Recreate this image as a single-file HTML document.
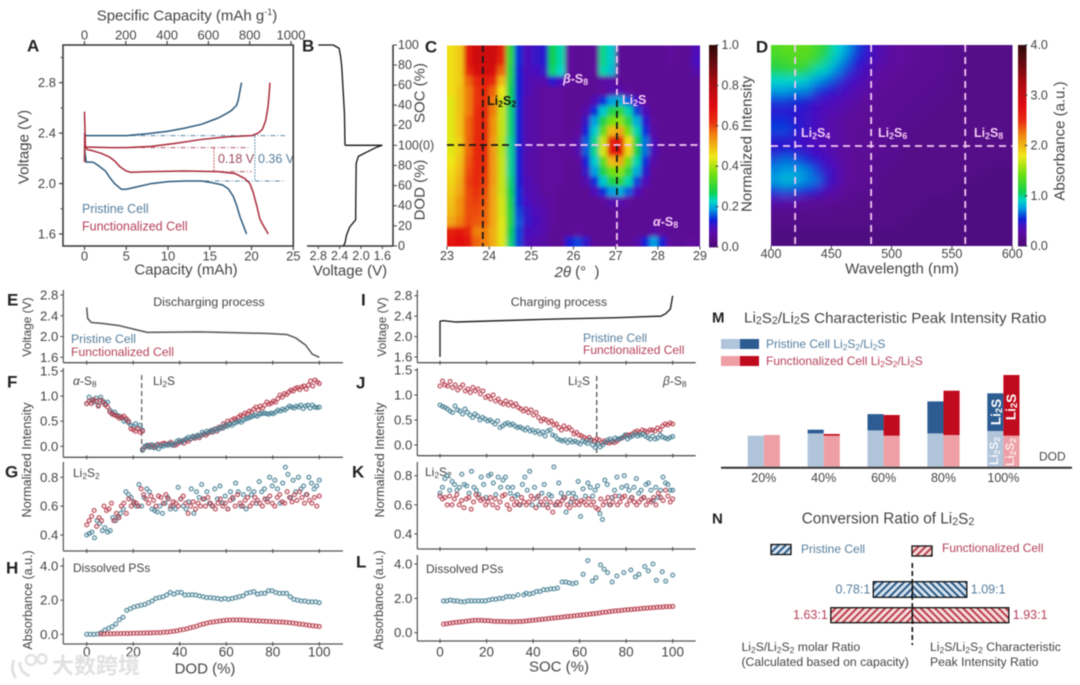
<!DOCTYPE html>
<html lang="en">
<head>
<meta charset="utf-8">
<title>Li-S operando characterization figure</title>
<style>
html,body{margin:0;padding:0;background:#fff;width:1080px;height:685px;overflow:hidden}
svg{display:block;filter:blur(0.4px)}
text{font-family:"Liberation Sans","Noto Sans CJK SC",sans-serif;fill:#444;dominant-baseline:central;font-size:13px}
.pl{font-weight:bold;font-size:17px;fill:#222}
.sub{font-size:70%;baseline-shift:-3px}
.after{baseline-shift:0}
.blue{fill:#567e9d}
.red{fill:#b5405a}
.title{font-size:15px}
.small{font-size:12px}
.pink{fill:#f3c9f3;font-weight:bold;font-size:12.5px}
.ital{font-style:italic}
</style>
</head>
<body>
<svg id="fig" xmlns="http://www.w3.org/2000/svg" width="1080" height="685" viewBox="0 0 1080 685">
<defs>
<clipPath id="clipC"><rect x="447" y="45.5" width="253" height="201"/></clipPath>
<clipPath id="clipD"><rect x="771" y="45" width="241.5" height="201"/></clipPath>
<filter id="soft" x="-10%" y="-10%" width="120%" height="120%"><feGaussianBlur stdDeviation="2"/></filter>
<filter id="softD" x="-10%" y="-10%" width="120%" height="120%"><feGaussianBlur stdDeviation="4.5"/></filter>
<pattern id="hatchBlueL" width="5" height="5" patternUnits="userSpaceOnUse" patternTransform="rotate(45)"><rect width="5" height="5" fill="#d7e4f0"/><rect width="2" height="5" fill="#2b5a85"/></pattern>
<pattern id="hatchBlueR" width="5" height="5" patternUnits="userSpaceOnUse" patternTransform="rotate(-45)"><rect width="5" height="5" fill="#d7e4f0"/><rect width="2" height="5" fill="#2b5a85"/></pattern>
<pattern id="hatchRedL" width="5" height="5" patternUnits="userSpaceOnUse" patternTransform="rotate(45)"><rect width="5" height="5" fill="#f8dcdc"/><rect width="2" height="5" fill="#b8404e"/></pattern>
<pattern id="hatchRedR" width="5" height="5" patternUnits="userSpaceOnUse" patternTransform="rotate(-45)"><rect width="5" height="5" fill="#f8dcdc"/><rect width="2" height="5" fill="#b8404e"/></pattern>
</defs>

<g id="gA">
<text class="pl" x="27" y="46">A</text>
<text class="title" x="187" y="16" text-anchor="middle">Specific Capacity (mAh g<tspan font-size="9" baseline-shift="4">-1</tspan>)</text>
<text class="title" x="186" y="270" text-anchor="middle">Capacity (mAh)</text>
<text class="title" transform="translate(24,147) rotate(-90)" text-anchor="middle">Voltage (V)</text>
<text class="blue" x="82" y="209" style="font-size:12.5px">Pristine Cell</text>
<text class="red" x="82" y="226.5" style="font-size:12.5px">Functionalized Cell</text>
<text x="218" y="159" style="font-size:12.5px;fill:#9c4a5c">0.18 V</text>
<text x="258" y="159" style="font-size:12.5px;fill:#567e9d">0.36 V</text>
</g>

<g id="gB">
<text class="pl" x="302" y="46">B</text>
<text class="title" x="350" y="271" text-anchor="middle">Voltage (V)</text>
<text class="title" transform="translate(420,93) rotate(-90)" text-anchor="middle">SOC (%)</text>
<text class="title" transform="translate(420,190) rotate(-90)" text-anchor="middle">DOD (%)</text>
</g>

<g id="gC">
<g clip-path="url(#clipC)"><g id="heatC" filter="url(#soft)"></g>
<g id="linesC"></g></g>
<g id="barC"></g>
<text class="pl" x="431" y="47" text-anchor="middle">C</text>
<text x="487" y="101" style="font-weight:bold;font-size:12.5px;fill:#1a1a10">Li<tspan class="sub">2</tspan><tspan class="after">S</tspan><tspan class="sub">2</tspan></text>
<text class="pink" x="622" y="100">Li<tspan class="sub">2</tspan><tspan class="after">S</tspan></text>
<text class="pink" x="563" y="79"><tspan class="ital">β</tspan>-S<tspan class="sub">8</tspan></text>
<text class="pink" x="653" y="222"><tspan class="ital">α</tspan>-S<tspan class="sub">8</tspan></text>
<text class="title" x="577" y="272" text-anchor="middle"><tspan class="ital">2θ</tspan> (°&#160;&#160;)</text>
<text class="title" transform="translate(747,144) rotate(-90)" text-anchor="middle">Normalized Intensity</text>
</g>

<g id="gD">
<g clip-path="url(#clipD)"><g id="heatD" filter="url(#softD)"></g>
<g id="linesD"></g></g>
<g id="barD"></g>
<text class="pl" x="762" y="47" text-anchor="middle">D</text>
<text class="pink" x="801" y="133">Li<tspan class="sub">2</tspan><tspan class="after">S</tspan><tspan class="sub">4</tspan></text>
<text class="pink" x="878" y="133">Li<tspan class="sub">2</tspan><tspan class="after">S</tspan><tspan class="sub">6</tspan></text>
<text class="pink" x="974" y="133">Li<tspan class="sub">2</tspan><tspan class="after">S</tspan><tspan class="sub">8</tspan></text>
<text class="title" x="902" y="269" text-anchor="middle">Wavelength (nm)</text>
<text class="title" transform="translate(1060,141) rotate(-90)" text-anchor="middle">Absorbance (a.u.)</text>
</g>

<g id="gLeft">
<text class="pl" x="7" y="300">E</text>
<text class="pl" x="7" y="382">F</text>
<text class="pl" x="5" y="472">G</text>
<text class="pl" x="6" y="568">H</text>
<text class="small" transform="translate(27,327) rotate(-90)" text-anchor="middle">Voltage (V)</text>
<text style="font-size:12.7px" transform="translate(27,460) rotate(-90)" text-anchor="middle">Normalized Intensity</text>
<text style="font-size:12.5px" transform="translate(28,600) rotate(-90)" text-anchor="middle">Absorbance (a.u.)</text>
<text x="209" y="302" text-anchor="middle" style="font-size:12.3px">Discharging process</text>
<text class="blue" x="71" y="339" style="font-size:12.2px">Pristine Cell</text>
<text class="red" x="71" y="352" style="font-size:12.2px">Functionalized Cell</text>
<text class="small" x="73" y="381"><tspan class="ital">α</tspan>-S<tspan class="sub">8</tspan></text>
<text class="small" x="153" y="381">Li<tspan class="sub">2</tspan><tspan class="after">S</tspan></text>
<text class="small" x="73" y="473">Li<tspan class="sub">2</tspan><tspan class="after">S</tspan><tspan class="sub">2</tspan></text>
<text class="small" x="73" y="568">Dissolved PSs</text>
<text class="title" x="205" y="669" text-anchor="middle">DOD (%)</text>
</g>

<g id="gRight">
<text class="pl" x="361" y="300">I</text>
<text class="pl" x="356" y="383">J</text>
<text class="pl" x="352" y="472">K</text>
<text class="pl" x="356" y="562">L</text>
<text class="small" transform="translate(382,327) rotate(-90)" text-anchor="middle">Voltage (V)</text>
<text style="font-size:12.7px" transform="translate(380,460) rotate(-90)" text-anchor="middle">Normalized Intensity</text>
<text style="font-size:12.5px" transform="translate(379,600) rotate(-90)" text-anchor="middle">Absorbance (a.u.)</text>
<text x="559" y="302" text-anchor="middle" style="font-size:12.3px">Charging process</text>
<text class="blue" x="583" y="338" style="font-size:12px">Pristine Cell</text>
<text class="red" x="583" y="350" style="font-size:12px">Functionalized Cell</text>
<text class="small" x="568" y="381">Li<tspan class="sub">2</tspan><tspan class="after">S</tspan></text>
<text class="small" x="663" y="381"><tspan class="ital">β</tspan>-S<tspan class="sub">8</tspan></text>
<text class="small" x="425" y="472">Li<tspan class="sub">2</tspan><tspan class="after">S</tspan><tspan class="sub">2</tspan></text>
<text class="small" x="426" y="569">Dissolved PSs</text>
<text class="title" x="559" y="667" text-anchor="middle">SOC (%)</text>
</g>

<g id="gM">
<text class="pl" x="712" y="318" style="font-size:15px">M</text>
<text x="744" y="318" style="font-size:15.2px">Li<tspan class="sub">2</tspan><tspan class="after">S</tspan><tspan class="sub">2</tspan><tspan class="after">/Li</tspan><tspan class="sub">2</tspan><tspan class="after">S Characteristic Peak Intensity Ratio</tspan></text>
<rect x="721" y="339" width="19" height="10" fill="#b0c4da"/>
<rect x="740" y="339" width="19" height="10" fill="#2c5c92"/>
<rect x="721" y="356" width="19" height="10" fill="#ee9fa6"/>
<rect x="740" y="356" width="19" height="10" fill="#c00b1e"/>
<text class="blue" x="766" y="344" style="font-size:12px">Pristine Cell Li<tspan class="sub">2</tspan><tspan class="after">S</tspan><tspan class="sub">2</tspan><tspan class="after">/Li</tspan><tspan class="sub">2</tspan><tspan class="after">S</tspan></text>
<text class="red" x="766" y="361" style="font-size:12px">Functionalized Cell Li<tspan class="sub">2</tspan><tspan class="after">S</tspan><tspan class="sub">2</tspan><tspan class="after">/Li</tspan><tspan class="sub">2</tspan><tspan class="after">S</tspan></text>
<g id="barsM"></g>
<line x1="721" y1="467.7" x2="1072" y2="467.7" stroke="#333" stroke-width="2"/>
<text x="1039" y="456.5" class="small">DOD</text>
<text transform="translate(996,412) rotate(-90)" text-anchor="middle" style="fill:#fff;font-weight:bold;font-size:13.5px">Li<tspan class="sub">2</tspan><tspan class="after">S</tspan></text>
<text transform="translate(1011,407) rotate(-90)" text-anchor="middle" style="fill:#fff;font-weight:bold;font-size:13.5px">Li<tspan class="sub">2</tspan><tspan class="after">S</tspan></text>
<text transform="translate(994,451) rotate(-90)" text-anchor="middle" style="fill:#f4f6fa;font-weight:bold;font-size:12px">Li<tspan class="sub">2</tspan><tspan class="after">S</tspan><tspan class="sub">2</tspan></text>
<text transform="translate(1010,452) rotate(-90)" text-anchor="middle" style="fill:#fbeaea;font-weight:bold;font-size:12px">Li<tspan class="sub">2</tspan><tspan class="after">S</tspan><tspan class="sub">2</tspan></text>
</g>

<g id="gN">
<text class="pl" x="712" y="519" style="font-size:15px">N</text>
<text x="888" y="519" text-anchor="middle" style="font-size:15.3px">Conversion Ratio of Li<tspan class="sub">2</tspan><tspan class="after">S</tspan><tspan class="sub">2</tspan></text>
<rect x="771" y="544.5" width="20" height="10" fill="url(#hatchBlueL)" stroke="#111" stroke-width="1.3"/>
<text class="blue" x="801" y="549" style="font-size:12px">Pristine Cell</text>
<rect x="912" y="546" width="20" height="10" fill="url(#hatchRedL)" stroke="#111" stroke-width="1.3"/>
<text class="red" x="942" y="548" style="font-size:12px">Functionalized Cell</text>
<g id="barsN"></g>
<line x1="912.3" y1="563" x2="912.3" y2="645" stroke="#111" stroke-width="1.6" stroke-dasharray="5 3"/>
<text x="741.5" y="647" style="font-size:12.2px">Li<tspan class="sub">2</tspan><tspan class="after">S/Li</tspan><tspan class="sub">2</tspan><tspan class="after">S</tspan><tspan class="sub">2</tspan><tspan class="after"> molar Ratio</tspan></text>
<text x="741.5" y="662" style="font-size:12.2px">(Calculated based on capacity)</text>
<text x="930" y="647" style="font-size:12.2px">Li<tspan class="sub">2</tspan><tspan class="after">S/Li</tspan><tspan class="sub">2</tspan><tspan class="after">S</tspan><tspan class="sub">2</tspan><tspan class="after"> Characteristic</tspan></text>
<text x="930" y="662" style="font-size:12.2px">Peak Intensity Ratio</text>
</g>

<g id="watermark" opacity="0.85">
<path d="M14 660 Q10 670 16 678 M20 662 Q19 672 30 676" fill="none" stroke="#ddd" stroke-width="3"/>
<circle cx="31" cy="660" r="5" fill="none" stroke="#ddd" stroke-width="2.5"/>
<circle cx="42" cy="659" r="4.5" fill="none" stroke="#ddd" stroke-width="2.5"/>
<text x="52" y="666" style="font-size:22px;fill:#dcdcdc;font-family:'Liberation Sans','WenQuanYi Zen Hei','Noto Sans CJK SC',sans-serif;font-weight:bold">大数跨境</text>
</g>
</svg>

<script>
/* ---------- data: panel A (capacity mAh, voltage V) ---------- */
const aPristineChargeCap = [0.1,2,5,7.5,10,12,14,16,17,17.6,18.2,18.4,18.6,18.8];
const aPristineChargeV = [2.38,2.38,2.38,2.395,2.415,2.44,2.47,2.52,2.555,2.58,2.62,2.66,2.73,2.8];
const aPristineDischargeCap = [0.02,0.05,0.2,1,1.5,2.5,3,3.6,4.4,5,6,8,10,12,14,15,16.5,17.2,17.8,18.2,18.6,19,19.4];
const aPristineDischargeV = [2.3,2.25,2.17,2.17,2.15,2.1,2.05,2,1.955,1.955,1.97,2,2.015,2.02,2.02,2.01,1.99,1.96,1.9,1.83,1.74,1.67,1.6];
const aFuncChargeCap = [0,0.02,0.1,3,5,8,11,14,17,20,20.8,21.3,21.7,21.95,22.1,22.2];
const aFuncChargeV = [2.17,2.4,2.29,2.285,2.285,2.295,2.32,2.35,2.37,2.38,2.4,2.43,2.5,2.6,2.7,2.8];
const aFuncDischargeCap = [0,0.1,0.3,1,2,3,3.6,4.3,5,5.5,8,12,16,18,19.2,19.8,20.2,20.6,21,21.3,22];
const aFuncDischargeV = [2.57,2.3,2.27,2.26,2.24,2.21,2.18,2.13,2.1,2.09,2.095,2.1,2.095,2.08,2.04,2,1.93,1.83,1.72,1.68,1.6];
const aCapTicks = [0,5,10,15,20,25];
const aSpecTicks = [0,200,400,600,800,1000];
const aVoltTicks = [1.6,2.0,2.4,2.8];
const aVoltMinor = [1.8,2.2,2.6,3.0];
/* ---------- panel B ---------- */
const bSocPct = [100,100,96.7,88,78,32,2,0];
const bSocV = [2.8,2.52,2.41,2.38,2.36,2.31,2.3,2.3];
const bDodPct = [100,98,93,89,82,26,19,11,3,0];
const bDodV = [1.6,1.71,1.9,2.05,2.09,2.1,2.21,2.27,2.3,2.33];
const bVoltTicks = [2.8,2.4,2.0,1.6];
const bSocTicks = [100,80,60,40,20];
const bDodTicks = [80,60,40,20,0];
/* ---------- panel C heatmap: rows top to bottom, normalized intensity x100, 0.2 deg columns from 23 to 29 ---------- */
const cHeat = [
[46,48,68,74,74,74,66,30,14,9,11,12,27,24,6,5,5,6,25,22,5,5,5,5,5,5,6,5,5,9],
[46,48,68,74,74,74,64,30,14,9,11,12,27,24,6,5,5,6,25,22,5,5,5,5,5,5,6,5,5,10],
[46,48,64,72,74,72,58,29,13,9,10,11,26,23,6,5,5,6,24,21,5,5,5,5,5,5,5,5,5,8],
[46,48,58,64,66,64,50,28,13,9,8,8,12,10,6,5,5,5,7,7,5,5,5,5,5,5,5,5,5,5],
[46,49,56,62,64,58,45,27,13,9,7,6,6,6,5,5,5,5,6,8,8,6,5,5,5,5,5,5,5,5],
[44,49,56,62,63,56,43,27,13,8,7,6,6,6,5,5,5,9,14,19,20,16,10,6,5,5,5,5,5,5],
[44,49,56,63,64,56,42,26,13,8,7,6,6,6,5,5,8,14,22,28,30,24,15,9,5,5,5,5,5,5],
[44,49,58,63,64,54,42,26,13,8,7,6,6,6,5,5,11,19,28,36,38,29,20,12,6,5,5,5,5,5],
[44,49,58,63,64,54,42,26,13,8,7,6,6,6,5,6,13,22,34,50,52,36,24,14,7,5,5,5,5,5],
[44,48,58,64,64,53,41,25,13,8,7,6,6,6,6,8,16,25,42,66,68,46,27,17,9,5,5,5,5,5],
[44,48,58,64,64,53,41,25,13,8,7,6,6,6,6,8,16,25,43,67,69,47,27,17,9,5,5,5,5,5],
[45,49,59,64,63,53,42,25,13,8,7,6,6,6,5,6,13,22,34,50,52,36,24,14,7,5,5,5,5,5],
[46,50,60,64,62,53,42,25,13,8,7,6,6,6,5,5,11,19,28,36,38,29,20,12,6,5,5,5,5,5],
[47,51,61,64,61,53,42,26,13,9,7,6,6,6,5,5,8,14,22,28,30,24,15,9,5,5,5,5,5,5],
[48,52,60,62,60,52,42,27,14,9,8,6,6,5,5,5,5,9,14,19,20,16,10,6,5,5,5,5,5,5],
[49,54,60,61,59,52,43,28,14,10,8,7,6,5,5,5,5,5,6,8,8,6,5,5,5,5,5,5,5,5],
[50,54,60,60,58,52,43,29,15,11,9,8,6,5,5,5,5,5,5,5,5,5,5,5,5,5,5,5,5,5],
[52,56,60,59,58,52,44,29,16,11,10,8,6,5,5,5,5,5,5,5,5,5,5,5,5,5,5,5,5,5],
[66,68,64,56,56,51,44,27,15,10,9,8,5,5,5,6,5,5,5,5,5,5,5,5,7,6,5,5,5,5],
[68,70,68,58,56,51,44,26,15,9,8,7,5,5,13,15,11,5,5,5,5,5,7,13,19,13,6,5,6,6]
];
const cXTicks = [23,24,25,26,27,28,29];
const cBarTicks = ["0.0","0.2","0.4","0.6","0.8","1.0"];
/* ---------- panel D heatmap: rows top to bottom, fraction of colour range x100 ---------- */
const dHeat = [
[33,34,34,34,32,28,23,19,15,12,9,7,6,6,5,5,5,4,4,3,3,3,3,3],
[31,32,33,33,30,25,21,17,13,11,8,7,6,6,5,5,5,4,4,3,3,3,3,3],
[28,29,30,28,24,22,18,15,11,9,7,6,6,5,5,5,5,4,4,3,3,3,3,3],
[23,23,23,22,19,17,15,11,10,8,6,6,5,5,5,5,4,4,3,3,3,3,3,3],
[19,19,18,18,15,13,11,10,8,7,6,5,5,5,5,4,4,4,3,3,3,3,3,3],
[15,15,14,13,11,10,9,8,7,6,5,5,5,5,4,4,4,3,3,3,3,3,3,3],
[12,12,12,11,10,9,8,7,6,5,5,5,5,4,4,4,3,3,3,3,3,3,3,3],
[14,14,12,11,10,8,7,6,6,5,5,5,4,4,4,3,3,3,3,3,3,3,3,3],
[15,15,13,11,10,8,7,6,5,5,5,5,4,4,3,3,3,3,3,3,3,3,3,3],
[12,12,11,10,9,8,7,6,5,5,5,4,4,4,3,3,3,3,3,3,3,3,3,3],
[12,13,12,11,10,9,7,6,5,5,5,4,4,3,3,3,3,3,3,3,3,3,3,3],
[16,17,16,14,12,10,8,6,5,5,4,4,4,3,3,3,3,3,3,3,3,3,3,3],
[18,19,19,18,15,11,9,6,5,5,4,4,3,3,3,3,3,3,3,3,3,2,2,2],
[19,21,20,18,17,12,9,6,5,5,4,3,3,3,3,3,3,3,3,2,2,2,2,2],
[15,16,15,14,12,9,7,5,5,4,4,3,3,3,3,3,3,3,2,2,2,2,2,2],
[8,8,7,6,5,5,5,4,4,3,3,3,3,3,3,2,2,2,2,2,2,2,2,2],
[4,4,4,4,4,4,3,3,3,3,3,3,3,3,2,2,2,2,2,2,2,2,2,2],
[3,3,3,3,3,3,3,3,3,3,3,3,3,2,2,2,2,2,2,2,2,2,2,2],
[2,2,2,2,2,2,2,2,2,2,2,2,2,2,2,2,2,2,2,2,2,2,2,2],
[2,2,2,2,2,2,2,2,2,2,2,2,2,2,2,2,2,2,2,2,2,2,2,2]
];
const dXTicks = [400,450,500,550,600];
const dBarTicks = ["0.0","1.0","2.0","3.0","4.0"];
/* ---------- rainbow colour scale ---------- */
const cmapAt = [0,0.03,0.06,0.1,0.135,0.19,0.23,0.27,0.36,0.45,0.56,0.62,0.7,0.82,0.92,1];
const cmapColor = ["#480876","#540a88","#5e0a9c","#4a10c0","#1020d8","#00a0e0","#00d8c8","#10d050","#70e010","#f0e818","#f08010","#e83010","#e00a10","#a80a10","#600a10","#300808"];
/* ---------- panel E / I voltage curves ---------- */
const eDod = [0,0.4,2,7,14,20,26,49,77,86,90,94,97,100];
const eVolt = [2.56,2.35,2.27,2.25,2.21,2.145,2.08,2.09,2.06,2.04,1.97,1.84,1.66,1.6];
const iSoc = [0,0,1.4,7,47,76,95,97,99,100];
const iVolt = [1.6,2.3,2.31,2.285,2.34,2.37,2.4,2.45,2.54,2.8];
const voltTicks = [1.6,2.0,2.4,2.8];
const pctTicks = [0,20,40,60,80,100];
/* ---------- panel F: DOD 0-24 and 24-100 ---------- */
const fPristineAlpha = [.85,.98,.92,.88,.96,.82,.98,.9,.85,.88,.72,.66,.68,.62,.6,.56,.5,.52,.47,.42,.4,.45,.36,.42,.32];
const fFuncAlpha = [.85,.9,.85,.93,.9,.8,.92,.87,.82,.78,.68,.64,.62,.6,.56,.58,.6,.55,.5,.35,.33,.3,.35,.28,.3];
const fPristineLi2S = [-.08,0,.02,-.02,.03,-.03,.02,-.05,.01,0,.03,.02,.05,.02,.05,.1,.12,.08,.12,.15,.18,.15,.2,.18,.22,.2,.28,.25,.3,.28,.32,.3,.35,.33,.38,.36,.42,.4,.44,.42,.46,.48,.5,.48,.52,.55,.56,.58,.6,.62,.6,.64,.65,.66,.65,.64,.66,.65,.68,.72,.7,.74,.72,.76,.8,.78,.76,.8,.78,.82,.75,.8,.82,.76,.82,.78,.77,.78];
const fFuncLi2S = [-.06,-.02,0,.02,-.01,.01,-.02,.04,.02,.05,.06,.04,.05,.08,.03,.02,.05,.08,.1,.06,.12,.1,.14,.18,.16,.2,.17,.22,.24,.22,.26,.3,.28,.34,.3,.38,.36,.45,.4,.5,.46,.52,.55,.53,.58,.62,.6,.66,.64,.7,.68,.74,.78,.72,.8,.76,.82,.88,.84,.86,.9,.88,.95,1.02,.98,1.05,1.03,1.08,1.12,1.1,1.15,1.17,1.13,1.18,1.2,1.14,1.22,1.3,1.2,1.32,1.28,1.25];
const fTicks = [0,0.5,1,1.5];
const fTickLabels = ["0.0","0.5","1.0","1.5"];
/* ---------- panel G ---------- */
const gPristine = [.40,.41,.42,.38,.5,.48,.43,.45,.42,.43,.52,.5,.53,.55,.58,.7,.68,.66,.62,.6,.75,.6,.66,.72,.7,.58,.57,.56,.6,.55,.62,.66,.58,.6,.58,.73,.65,.6,.58,.63,.72,.55,.7,.66,.75,.65,.7,.62,.6,.72,.65,.74,.62,.67,.58,.7,.65,.76,.7,.6,.68,.58,.72,.68,.7,.62,.77,.7,.72,.65,.8,.74,.78,.72,.62,.76,.87,.82,.66,.78,.7,.8,.72,.74,.68,.8,.76,.72,.74,.78];
const gFunc = [.47,.5,.53,.57,.46,.52,.5,.6,.57,.58,.62,.5,.55,.52,.6,.62,.55,.65,.6,.63,.62,.6,.72,.68,.65,.62,.67,.64,.6,.67,.66,.62,.68,.65,.6,.63,.62,.6,.65,.67,.62,.55,.6,.63,.58,.62,.6,.65,.6,.66,.62,.6,.58,.62,.65,.6,.62,.58,.64,.66,.6,.68,.62,.6,.64,.66,.6,.62,.66,.64,.62,.6,.65,.63,.67,.62,.6,.66,.68,.63,.62,.7,.66,.63,.68,.64,.7,.66,.62,.68,.64,.62,.66,.6,.67];
const intTicks = [0.4,0.6,0.8];
/* ---------- panel H ---------- */
const hPristine = [0,0,0,.02,.1,.25,.35,.45,.6,.85,1,1.4,1.5,1.6,1.65,1.7,1.75,1.85,1.95,2.1,2.15,2.2,2.3,2.45,2.35,2.45,2.45,2.3,2.3,2.32,2.3,2.25,2.2,2.15,2.15,2.12,2.1,2.05,2.1,2.05,2.1,2.15,2.2,2.25,2.4,2.45,2.5,2.35,2.4,2.4,2.55,2.55,2.45,2.4,2.4,2.4,2.2,2.05,2,1.95,1.95,1.9,1.9,1.9,1.85];
const hFunc = [.02,.02,.03,.03,.03,.04,.04,.05,.05,.05,.06,.06,.07,.07,.08,.08,.09,.1,.1,.12,.13,.15,.18,.2,.25,.28,.32,.38,.42,.48,.55,.6,.65,.7,.72,.75,.78,.8,.82,.83,.84,.84,.84,.83,.82,.81,.8,.79,.78,.77,.76,.75,.74,.73,.72,.71,.7,.68,.66,.63,.6,.58,.55,.52,.5,.48,.46];
const absTicks = [0,2,4];
const absTickLabels = ["0.0","2.0","4.0"];
/* ---------- panel J ---------- */
const jPristine = [.8,.77,.75,.72,.68,.65,.78,.7,.68,.62,.72,.65,.6,.55,.62,.58,.5,.55,.52,.48,.5,.46,.42,.48,.35,.38,.42,.44,.4,.42,.38,.35,.36,.33,.3,.34,.28,.3,.25,.28,.22,.26,.18,.28,.3,.2,.18,.12,.1,.08,.1,.05,.1,.06,.08,.05,.02,.08,.06,.03,.1,0,-.05,.02,-.04,0,.05,.1,.12,.08,.14,.12,.13,.15,.2,.12,.16,.18,.22,.18,.2,.22,.18,.15,.12,.18,.12,.14,.2,.16,.14,.12,.15,.17];
const jFunc = [1.18,1.28,1.2,1.18,1.27,1.15,1.2,1.1,1.15,1.2,1.08,1.12,1.05,1.15,1.08,1.12,1.02,1.08,.95,.98,.92,1.0,.88,.92,.85,.82,.88,.8,.85,.78,.82,.75,.72,.68,.72,.65,.7,.6,.65,.55,.48,.52,.5,.45,.48,.4,.42,.35,.3,.38,.32,.35,.3,.22,.25,.2,.18,.15,.12,.15,.1,.08,.12,.1,.05,.08,.05,.04,.06,.05,.08,.12,.14,.17,.2,.2,.22,.26,.28,.25,.3,.28,.26,.3,.3,.28,.34,.3,.38,.42,.4,.44,.42];
/* ---------- panel K ---------- */
const kPristine = [.68,.72,.78,.8,.7,.76,.74,.7,.72,.81,.74,.73,.68,.83,.72,.7,.67,.79,.74,.65,.8,.81,.75,.67,.79,.72,.77,.79,.72,.68,.72,.66,.67,.6,.74,.79,.7,.83,.6,.72,.65,.6,.68,.74,.6,.67,.66,.86,.6,.75,.68,.65,.55,.68,.62,.68,.65,.76,.52,.71,.66,.75,.72,.66,.7,.73,.54,.5,.77,.74,.6,.65,.7,.79,.66,.72,.8,.73,.7,.65,.72,.78,.68,.7,.65,.74,.75,.7,.63,.72,.65,.7,.79,.75,.74,.7,.7];
const kFunc = [.66,.64,.65,.6,.66,.6,.64,.67,.6,.63,.58,.64,.65,.57,.62,.67,.65,.63,.64,.6,.62,.65,.6,.64,.58,.62,.66,.67,.6,.57,.64,.6,.62,.6,.65,.62,.6,.62,.66,.64,.58,.66,.62,.6,.64,.58,.62,.55,.6,.62,.6,.63,.65,.6,.58,.64,.6,.62,.6,.63,.62,.6,.64,.6,.62,.58,.57,.64,.6,.62,.65,.6,.62,.66,.6,.62,.65,.66,.6,.63,.65,.62,.6,.62,.64,.65,.6,.63,.62,.65,.6,.68,.65,.63,.7,.66,.62,.64];
/* ---------- panel L ---------- */
const lPristineSoc = [1.5,3,4.5,6,7.5,9,10.5,12,13.5,15,16.5,18,19.5,21,22.5,24,25.5,27,28.5,30,31.5,33.5,36,37,38.5,40,41.5,43,44.5,46,47.5,49,50.5,52.5,54,55.5,57,58.5,61.5,63.5,65.5,67,69,70.5,72,74,76,79,82,84,85.5,88,89.5,91.5,93,95.5,97,100];
const lPristine = [1.85,1.85,1.9,1.85,1.85,1.8,1.8,1.85,1.85,1.85,1.85,1.85,1.85,1.9,1.95,1.95,2,2,2.1,2.1,2.1,2.2,2.2,2.3,2.25,2.3,2.4,2.4,2.5,2.5,2.55,2.55,2.6,2.95,2.95,2.9,2.85,2.9,3.4,4.2,3,3.2,3.95,3.7,3.5,2.95,3.3,3.5,3.65,3.25,3.4,3.85,3.6,4,3.05,3.55,3,3.35];
const lFunc = [.5,.52,.55,.58,.6,.62,.64,.66,.68,.7,.72,.72,.72,.7,.7,.68,.66,.66,.65,.65,.64,.64,.64,.65,.65,.66,.68,.7,.72,.74,.76,.78,.8,.82,.84,.86,.88,.9,.92,.94,.96,.98,1,1.02,1.04,1.06,1.08,1.1,1.12,1.15,1.18,1.2,1.22,1.25,1.27,1.28,1.3,1.32,1.34,1.35,1.37,1.38,1.4,1.42,1.43,1.45,1.46,1.48,1.49,1.5,1.52,1.52,1.53];
/* ---------- panel M ---------- */
const mCategories = ["20%","40%","60%","80%","100%"];
const mPristineLi2S2 = [.31,.333,.363,.333,.357];
const mPristineLi2S = [0,.037,.163,.32,.377];
const mFuncLi2S2 = [.317,.31,.31,.317,.31];
const mFuncLi2S = [0,.017,.207,.443,.607];
/* ---------- panel N ---------- */
const nCells = ["pristine","functionalized"];
const nMolarRatio = [0.78,1.63];
const nPeakRatio = [1.09,1.93];

const NS = "http://www.w3.org/2000/svg";
function add(parent, tag, attrs, name) {
  const el = document.createElementNS(NS, tag);
  for (const k in attrs) el.setAttribute(k, attrs[k]);
  
  
  parent.appendChild(el);
  return el;
}
function linear(d0, d1, r0, r1) { return v => r0 + (v - d0) * (r1 - r0) / (d1 - d0); }
function label(parent, x, y, str, anchor, size, name) {
  const t = add(parent, 'text', {x: x, y: y, 'text-anchor': anchor, style: 'font-size:' + size + 'px'}, name);
  t.textContent = str;
  return t;
}
function path(parent, xs, ys, sx, sy, stroke, width, name, dash) {
  const d = xs.map((x, i) => (i ? 'L' : 'M') + sx(x).toFixed(2) + ' ' + sy(ys[i]).toFixed(2)).join('');
  const a = {d: d, fill: 'none', stroke: stroke, 'stroke-width': width, 'stroke-linejoin': 'round'};
  if (dash) a['stroke-dasharray'] = dash;
  return add(parent, 'path', a, name);
}
function hTicks(parent, vals, s, y, len, name, w) {
  vals.forEach(v => add(parent, 'line', {x1: s(v), x2: s(v), y1: y, y2: y + len, stroke: '#444', 'stroke-width': w || 1}, name));
}
function vTicks(parent, vals, s, x, len, name, w) {
  vals.forEach(v => add(parent, 'line', {y1: s(v), y2: s(v), x1: x, x2: x + len, stroke: '#444', 'stroke-width': w || 1}, name));
}
function scatter(parent, x0, x1, ys, sx, sy, color, name, xs) {
  ys.forEach((v, i) => {
    const xv = xs ? xs[i] : x0 + i * (x1 - x0) / (ys.length - 1);
    add(parent, 'circle', {cx: sx(xv).toFixed(2), cy: sy(v).toFixed(2), r: 2, fill: color + '26', stroke: color, 'stroke-width': 1}, name);
  });
}
function hexRgb(h) { return [1, 3, 5].map(i => parseInt(h.substr(i, 2), 16)); }
function cmap(v) {
  v = Math.max(0, Math.min(1, v));
  let i = 0;
  while (i < cmapAt.length - 2 && v > cmapAt[i + 1]) i++;
  const t = (v - cmapAt[i]) / (cmapAt[i + 1] - cmapAt[i]);
  const a = hexRgb(cmapColor[i]), b = hexRgb(cmapColor[i + 1]);
  return 'rgb(' + a.map((c, k) => Math.round(c + (b[k] - c) * t)).join(',') + ')';
}
function heat(parent, grid, x0, y0, cw, ch, name) {
  const R = grid.length, C = grid[0].length;
  grid.forEach((row, r) => row.forEach((v, c) => {
    /* edge cells bleed past the clip so the blur does not fade at the frame */
    const ex = c === 0 ? 14 : 0, ey = r === 0 ? 14 : 0;
    const ew = c === C - 1 ? 14 : 0, eh = r === R - 1 ? 14 : 0;
    add(parent, 'rect', {x: x0 + c * cw - ex, y: y0 + r * ch - ey, width: cw + ex + ew + 0.4, height: ch + ey + eh + 0.4, fill: cmap(v / 100)}, name);
  }));
}
function colorbar(parent, x, y0, y1, w, ticks, name) {
  const n = 100;
  const h = (y1 - y0) / n;
  for (let i = 0; i < n; i++) add(parent, 'rect', {x: x, y: y1 - (i + 1) * h, width: w, height: h + 0.4, fill: cmap((i + 0.5) / n)}, name + '-segment');
  ticks.forEach((lab, i) => {
    const yy = y1 - i * (y1 - y0) / (ticks.length - 1);
    add(parent, 'line', {x1: x + w - 2, x2: x + w + 1, y1: yy, y2: yy, stroke: '#444', 'stroke-width': 1}, name + '-tick');
    label(parent, x + w + 4, yy, lab, 'start', 12.5, name + '-tick-label');
  });
}

/* ---------- panel A ---------- */
(function () {
  const g = document.getElementById('gA');
  const sx = linear(0, 25, 84.5, 293.3), sy = linear(1.6, 2.8, 234, 82.7), st = linear(0, 1000, 84.5, 291);
  add(g, 'rect', {x: 63, y: 45, width: 230.3, height: 201, fill: 'none', stroke: '#333', 'stroke-width': 1.5}, 'panel-a-frame');
  hTicks(g, aCapTicks, sx, 246, 4, 'capacity-tick', 1.2);
  hTicks(g, aSpecTicks, st, 45, -4, 'specific-capacity-tick', 1.2);
  vTicks(g, aVoltTicks, sy, 63, -4, 'voltage-major-tick', 1.2);
  vTicks(g, aVoltMinor, sy, 63, -2.5, 'voltage-minor-tick', 1);
  aCapTicks.forEach(v => label(g, sx(v), 256, String(v), 'middle', 13, 'capacity-tick-label'));
  aSpecTicks.forEach(v => label(g, st(v), 35, String(v), 'middle', 13, 'specific-capacity-tick-label'));
  aVoltTicks.forEach(v => label(g, 56, sy(v), v.toFixed(1), 'end', 13, 'voltage-tick-label'));
  const B = '#2c5a7c', R = '#a82a3a';
  path(g, [5.5, 24], [2.38, 2.38], sx, sy, '#5a89a8', 1, 'guide-pristine-charge', '5 2 1 2');
  path(g, [12, 24], [2.02, 2.02], sx, sy, '#5a89a8', 1, 'guide-pristine-discharge', '5 2 1 2');
  path(g, [5.5, 19.6], [2.285, 2.285], sx, sy, '#b35a68', 1, 'guide-functionalized-charge', '5 2 1 2');
  path(g, [15, 20], [2.095, 2.095], sx, sy, '#b35a68', 1, 'guide-functionalized-discharge', '5 2 1 2');
  path(g, [15.5, 15.5], [2.28, 2.1], sx, sy, '#b8303f', 1, 'arrow-0-18-v', '1.5 1.5');
  path(g, [20.4, 20.4], [2.375, 2.025], sx, sy, '#3d7396', 1, 'arrow-0-36-v', '1.5 1.5');
  path(g, aPristineChargeCap, aPristineChargeV, sx, sy, B, 1.5, 'pristine-charge-curve');
  path(g, aPristineDischargeCap, aPristineDischargeV, sx, sy, B, 1.5, 'pristine-discharge-curve');
  path(g, aFuncChargeCap, aFuncChargeV, sx, sy, R, 1.5, 'functionalized-charge-curve');
  path(g, aFuncDischargeCap, aFuncDischargeV, sx, sy, R, 1.5, 'functionalized-discharge-curve');
})();

/* ---------- panel B ---------- */
(function () {
  const g = document.getElementById('gB');
  const sx = linear(2.8, 1.6, 318.3, 382.3), sSoc = linear(0, 100, 145.3, 45), sDod = linear(0, 100, 246, 145.3);
  add(g, 'line', {x1: 307, x2: 393, y1: 246, y2: 246, stroke: '#333', 'stroke-width': 1.5}, 'panel-b-x-axis');
  add(g, 'line', {x1: 393, x2: 393, y1: 45, y2: 246, stroke: '#333', 'stroke-width': 1.5}, 'panel-b-y-axis');
  hTicks(g, bVoltTicks, sx, 246, 3, 'panel-b-voltage-tick');
  bVoltTicks.forEach(v => label(g, sx(v), 256, v.toFixed(1), 'middle', 12.5, 'panel-b-voltage-tick-label'));
  vTicks(g, bSocTicks, sSoc, 393, 4, 'soc-tick');
  vTicks(g, bDodTicks, sDod, 393, 4, 'dod-tick');
  vTicks(g, [100], sDod, 393, 4, 'soc-dod-junction-tick');
  bSocTicks.forEach(v => label(g, 398, sSoc(v), String(v), 'start', 12.5, 'soc-tick-label'));
  bDodTicks.forEach(v => label(g, 398, sDod(v), String(v), 'start', 12.5, 'dod-tick-label'));
  label(g, 398, 145.3, '100(0)', 'start', 12.5, 'soc-dod-junction-label');
  path(g, bSocV, bSocPct, sx, sSoc, '#111', 1.3, 'soc-voltage-curve');
  path(g, [2.3, 1.6], [100, 100], sx, sDod, '#111', 1.3, 'soc-dod-transition-line');
  path(g, bDodV, bDodPct, sx, sDod, '#111', 1.3, 'dod-voltage-curve');
})();

/* ---------- panel C ---------- */
(function () {
  const g = document.getElementById('gC');
  const sx = linear(23, 29, 447, 700);
  heat(document.getElementById('heatC'), cHeat, 447, 45.7, 253 / 30, 10.05, 'xrd-heatmap-cell');
  const L = document.getElementById('linesC');
  const dash = '7 4';
  path(L, [23.85, 23.85], [45, 247], sx, v => v, '#1a1a1a', 1.8, 'li2s2-guide-line', dash);
  path(L, [27.03, 27.03], [45, 95], sx, v => v, '#f3c9f3', 1.8, 'li2s-guide-upper', dash);
  path(L, [27.03, 27.03], [100, 196], sx, v => v, '#10201a', 1.8, 'li2s-guide-middle', dash);
  path(L, [27.03, 27.03], [200, 247], sx, v => v, '#f3c9f3', 1.8, 'li2s-guide-lower', dash);
  path(L, [23, 24.5], [145, 145], sx, v => v, '#1a1a1a', 1.8, 'horizontal-guide-dark', dash);
  path(L, [24.6, 29], [145, 145], sx, v => v, '#f3c9f3', 1.8, 'horizontal-guide-light', dash);
  cXTicks.forEach(v => label(g, sx(v), 256, String(v), 'middle', 12.5, 'two-theta-tick-label'));
  hTicks(g, cXTicks, sx, 246.5, 3, 'two-theta-tick');
  colorbar(document.getElementById('barC'), 709, 45, 247, 8.5, cBarTicks, 'panel-c-colorbar');
})();

/* ---------- panel D ---------- */
(function () {
  const g = document.getElementById('gD');
  const sx = linear(400, 600, 771, 1012.3);
  heat(document.getElementById('heatD'), dHeat, 771, 45, 241.5 / 24, 10.05, 'uv-vis-heatmap-cell');
  const L = document.getElementById('linesD');
  const c = '#f3c9f3';
  [420, 483, 561].forEach(v => path(L, [v, v], [45, 246], sx, y => y, c, 1.8, 'species-guide-line', '7 5'));
  path(L, [400, 600], [146, 146], sx, y => y, c, 1.8, 'horizontal-guide-line', '7 5');
  dXTicks.forEach(v => label(g, sx(v), 254, String(v), 'middle', 12.5, 'wavelength-tick-label'));
  hTicks(g, dXTicks, sx, 246, 3, 'wavelength-tick');
  colorbar(document.getElementById('barD'), 1018, 45, 246, 8.5, dBarTicks, 'panel-d-colorbar');
})();

/* ---------- stacked line panels E-L ---------- */
function frame(g, xl, xr, top, bottom, sx, name, ticksX) {
  add(g, 'line', {x1: xl, x2: xl, y1: top, y2: bottom, stroke: '#444', 'stroke-width': 1.1}, name + '-y-axis');
  add(g, 'line', {x1: xl, x2: xr, y1: bottom, y2: bottom, stroke: '#555', 'stroke-width': 1.3}, name + '-x-axis');
  hTicks(g, ticksX, sx, bottom - 2, 4, name + '-x-tick');
}
function yAxis(g, vals, labs, sy, xl, name) {
  vTicks(g, vals, sy, xl, -3, name + '-y-tick');
  vals.forEach((v, i) => label(g, xl - 5, sy(v), labs[i], 'end', 13.2, name + '-y-tick-label'));
}
const BLUE = '#4a8296', RED = '#b8404f';
(function () {
  const g = document.getElementById('gLeft');
  const sx = linear(0, 100, 86.7, 319.3);
  const xl = 63.3, xr = 343;
  const sE = linear(1.6, 2.8, 357.3, 295);
  frame(g, xl, xr, 290, 362.7, sx, 'panel-e', pctTicks);
  yAxis(g, voltTicks, voltTicks.map(v => v.toFixed(1)), sE, xl, 'panel-e');
  path(g, eDod, eVolt, sx, sE, '#555', 1.5, 'discharge-voltage-curve');
  const sF = linear(0, 1.5, 446.3, 371);
  frame(g, xl, xr, 368, 457.3, sx, 'panel-f', pctTicks);
  yAxis(g, fTicks, fTickLabels, sF, xl, 'panel-f');
  add(g, 'line', {x1: 141.7, x2: 141.7, y1: 375, y2: 453, stroke: '#555', 'stroke-width': 1.2, 'stroke-dasharray': '5 3'}, 'panel-f-divider');
  scatter(g, 0, 24, fPristineAlpha, sx, sF, BLUE, 'panel-f-pristine-alpha-point');
  scatter(g, 0, 24, fFuncAlpha, sx, sF, RED, 'panel-f-functionalized-alpha-point');
  scatter(g, 24, 100, fFuncLi2S, sx, sF, RED, 'panel-f-functionalized-li2s-point');
  scatter(g, 24, 100, fPristineLi2S, sx, sF, BLUE, 'panel-f-pristine-li2s-point');
  const sG = linear(0.4, 0.8, 535, 477.3);
  frame(g, xl, xr, 462, 551, sx, 'panel-g', pctTicks);
  yAxis(g, intTicks, intTicks.map(v => v.toFixed(1)), sG, xl, 'panel-g');
  scatter(g, 0, 100, gPristine, sx, sG, BLUE, 'panel-g-pristine-point');
  scatter(g, 0, 100, gFunc, sx, sG, RED, 'panel-g-functionalized-point');
  const sH = linear(0, 4, 634.3, 566);
  frame(g, xl, xr, 557.7, 644, sx, 'panel-h', pctTicks);
  yAxis(g, absTicks, absTickLabels, sH, xl, 'panel-h');
  scatter(g, 0, 100, hPristine, sx, sH, BLUE, 'panel-h-pristine-point');
  scatter(g, 6, 100, hFunc, sx, sH, RED, 'panel-h-functionalized-point');
  pctTicks.forEach(v => label(g, sx(v), 652, String(v), 'middle', 13.5, 'dod-tick-label'));
})();
(function () {
  const g = document.getElementById('gRight');
  const sx = linear(0, 100, 440, 672.7);
  const xl = 417.3, xr = 695.7;
  const sI = linear(1.6, 2.8, 357, 295.7);
  frame(g, xl, xr, 290, 362.7, sx, 'panel-i', pctTicks);
  yAxis(g, voltTicks, voltTicks.map(v => v.toFixed(1)), sI, xl, 'panel-i');
  path(g, iSoc, iVolt, sx, sI, '#222', 1.4, 'charge-voltage-curve');
  const sJ = linear(0, 1.5, 445, 370);
  frame(g, xl, xr, 368, 455.7, sx, 'panel-j', pctTicks);
  yAxis(g, fTicks, fTickLabels, sJ, xl, 'panel-j');
  add(g, 'line', {x1: 596.7, x2: 596.7, y1: 376, y2: 455, stroke: '#444', 'stroke-width': 1.2, 'stroke-dasharray': '5 3'}, 'panel-j-divider');
  scatter(g, 0, 100, jFunc, sx, sJ, RED, 'panel-j-functionalized-point');
  scatter(g, 0, 100, jPristine, sx, sJ, BLUE, 'panel-j-pristine-point');
  const sK = linear(0.4, 0.8, 534, 475.7);
  frame(g, xl, xr, 462, 549, sx, 'panel-k', pctTicks);
  yAxis(g, intTicks, intTicks.map(v => v.toFixed(1)), sK, xl, 'panel-k');
  scatter(g, 0, 100, kPristine, sx, sK, BLUE, 'panel-k-pristine-point');
  scatter(g, 0, 100, kFunc, sx, sK, RED, 'panel-k-functionalized-point');
  const sL = linear(0, 4, 632.7, 564);
  frame(g, xl, xr, 555, 641, sx, 'panel-l', pctTicks);
  yAxis(g, absTicks, absTickLabels, sL, xl, 'panel-l');
  scatter(g, 0, 0, lPristine, sx, sL, BLUE, 'panel-l-pristine-point', lPristineSoc);
  scatter(g, 1.5, 100, lFunc, sx, sL, RED, 'panel-l-functionalized-point');
  pctTicks.forEach(v => label(g, sx(v), 652, String(v), 'middle', 13.5, 'soc-tick-label'));
})();

/* ---------- panel M ---------- */
(function () {
  const g = document.getElementById('barsM');
  const base = 466.7, k = 100, w = 16.1;
  const bandX = i => 747.7 + i * 59.9;
  mCategories.forEach((cat, i) => {
    const x = bandX(i);
    const pl = mPristineLi2S2[i] * k, pd = mPristineLi2S[i] * k, fl = mFuncLi2S2[i] * k, fd = mFuncLi2S[i] * k;
    add(g, 'rect', {x: x, y: base - pl, width: w, height: pl, fill: '#b0c4da'}, 'bar-pristine-li2s2-' + cat);
    add(g, 'rect', {x: x, y: base - pl - pd, width: w, height: pd, fill: '#2c5c92'}, 'bar-pristine-li2s-' + cat);
    add(g, 'rect', {x: x + w, y: base - fl, width: w, height: fl, fill: '#ee9fa6'}, 'bar-functionalized-li2s2-' + cat);
    add(g, 'rect', {x: x + w, y: base - fl - fd, width: w, height: fd, fill: '#c00b1e'}, 'bar-functionalized-li2s-' + cat);
    label(g, x + w, 478, cat, 'middle', 12.5, 'dod-category-label');
  });
})();

/* ---------- panel N ---------- */
(function () {
  const g = document.getElementById('barsN');
  const cx = 912.3, k = 50;
  const rowY = [581.7, 607.7], rowH = [15.6, 15];
  const fillsL = ['url(#hatchBlueL)', 'url(#hatchRedL)'], fillsR = ['url(#hatchBlueR)', 'url(#hatchRedR)'];
  const textCol = ['#567e9d', '#b5405a'];
  nCells.forEach((cell, i) => {
    const l = nMolarRatio[i] * k, r = nPeakRatio[i] * k;
    add(g, 'rect', {x: cx - l, y: rowY[i], width: l, height: rowH[i], fill: fillsL[i], stroke: '#111', 'stroke-width': 1.3}, 'bar-molar-ratio-' + cell);
    add(g, 'rect', {x: cx, y: rowY[i], width: r, height: rowH[i], fill: fillsR[i], stroke: '#111', 'stroke-width': 1.3}, 'bar-peak-ratio-' + cell);
    const a = label(g, cx - l - 3, rowY[i] + rowH[i] / 2, nMolarRatio[i].toFixed(2) + ':1', 'end', 12.5, 'molar-ratio-label-' + cell);
    a.style.fill = textCol[i];
    const b = label(g, cx + r + 4, rowY[i] + rowH[i] / 2, nPeakRatio[i].toFixed(2) + ':1', 'start', 12.5, 'peak-ratio-label-' + cell);
    b.style.fill = textCol[i];
  });
})();
</script>
</body>
</html>
